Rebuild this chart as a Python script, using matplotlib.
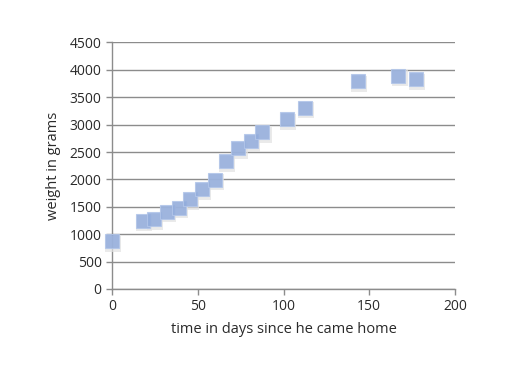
import matplotlib
matplotlib.use("Agg")
import matplotlib.pyplot as plt
import matplotlib.transforms as mtransforms

days = [0, 18, 24.5, 32, 39, 45.5, 52.7, 60, 66.5, 73.7, 81, 87.7, 102.2, 112.7, 143.3, 167, 177.3]
weight = [870, 1250, 1270, 1410, 1485, 1635, 1820, 1990, 2335, 2570, 2700, 2860, 3100, 3310, 3795, 3890, 3830]
xticks = [0, 50, 100, 150, 200]
yticks = list(range(0, 4501, 500))

plt.rcParams['font.family'] = ['Open Sans', 'DejaVu Sans']
fig = plt.figure(figsize=(5.2, 3.86), dpi=100)
ax = fig.add_axes([0.2154, 0.2513, 0.875 - 0.2154, 0.89 - 0.2513])

ax.set_xlim(0, 200)
ax.set_ylim(0, 4500)
ax.set_xticks(xticks)
ax.set_yticks(yticks)
ax.grid(axis='y', color='#8c8c8c', linewidth=1.0)
ax.set_axisbelow(True)
for s in ['top', 'right']:
    ax.spines[s].set_visible(False)
for s in ['left', 'bottom']:
    ax.spines[s].set_color('#8c8c8c')
    ax.spines[s].set_linewidth(1.0)
ax.tick_params(axis='both', colors='#8c8c8c', labelcolor='#2a2a2a', labelsize=10, length=4, width=1)
ax.tick_params(axis='x', pad=3)

shadow = mtransforms.offset_copy(ax.transData, fig=fig, x=0.8, y=-1.8, units='points')
ax.plot(days, weight, linestyle='none', marker='s', markersize=12.0, color='#e2e2e2', alpha=0.7,
        markeredgewidth=0, transform=shadow, clip_on=False, zorder=3)
ax.plot(days, weight, linestyle='none', marker='s', markersize=10.0, color='#92acdc', alpha=0.85,
        markeredgecolor='#b3c6e9', markeredgewidth=0.8, clip_on=False, zorder=4)

ax.set_xlabel('time in days since he came home', fontsize=10.5, color='#2a2a2a', labelpad=6)
ax.set_ylabel('weight in grams', fontsize=10.5, color='#2a2a2a', labelpad=6)

fig.savefig('out.png', dpi=100)
